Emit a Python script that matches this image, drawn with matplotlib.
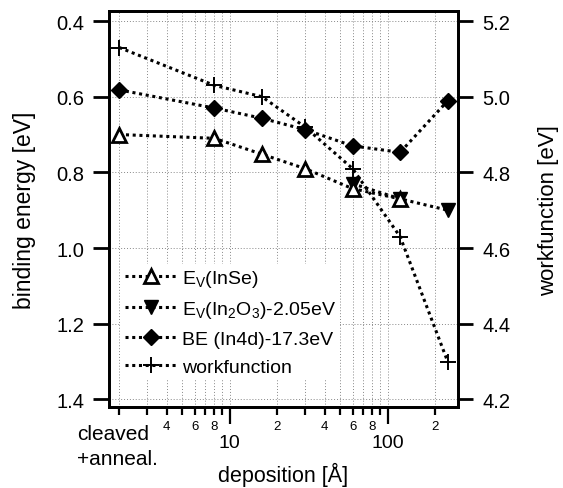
import matplotlib
matplotlib.use("Agg")
import matplotlib.pyplot as plt
from matplotlib.ticker import FixedLocator, FixedFormatter

plt.rcParams['font.family'] = ['Liberation Sans', 'DejaVu Sans']
plt.rcParams['mathtext.fontset'] = 'custom'
plt.rcParams['mathtext.rm'] = 'Liberation Sans'
plt.rcParams['mathtext.it'] = 'Liberation Sans:italic'

# ---- data ----
deposition = [2, 8, 16, 30, 60, 120, 240]          # 2 = "cleaved + anneal."
ev_inse_x = [2, 8, 16, 30, 60, 120]
ev_inse = [0.70, 0.71, 0.752, 0.79, 0.843, 0.87]
ev_in2o3_x = [60, 120, 240]
ev_in2o3 = [0.83, 0.87, 0.90]
be_in4d = [0.582, 0.630, 0.657, 0.687, 0.730, 0.747, 0.611]
workfunction = [5.13, 5.03, 5.00, 4.92, 4.81, 4.63, 4.30]

left_ticks = [0.4, 0.6, 0.8, 1.0, 1.2, 1.4]
right_ticks = [4.2, 4.4, 4.6, 4.8, 5.0, 5.2]
major_x = [10, 100]
minor_x = [2, 3, 4, 5, 6, 7, 8, 9, 20, 30, 40, 50, 60, 70, 80, 90, 200]
minor_x_labels = ['', '', '4', '', '6', '', '8', '', '2', '', '4', '', '6', '', '8', '', '2']

W, H = 563, 489
fig = plt.figure(figsize=(W / 100, H / 100), dpi=100)
L, R, T, B = 108.5, 458, 12.2, 408.3
ax = fig.add_axes([L / W, 1 - B / H, (R - L) / W, (B - T) / H])
ax2 = ax.twinx()

ax.set_xscale('log')
ax.set_xlim(1.71, 279)
ax.set_ylim(1.421, 0.374)
ax2.set_ylim(5.6 - 1.421, 5.6 - 0.374)

ls = (0, (1, 1.2))
lw = 2.2
l1, = ax.plot(ev_inse_x, ev_inse, color='black', ls=ls, lw=lw, marker='^',
              ms=10.5, mfc='white', mec='black', mew=2, label=r'E$_\mathrm{V}$(InSe)', zorder=4)
l2, = ax.plot(ev_in2o3_x, ev_in2o3, color='black', ls=ls, lw=lw, marker='v',
              ms=10.5, mfc='black', mec='black', label=r'E$_\mathrm{V}$(In$_2$O$_3$)-2.05eV', zorder=3)
l3, = ax.plot(deposition, be_in4d, color='black', ls=ls, lw=lw, marker='D',
              ms=8.5, mfc='black', mec='black', label='BE (In4d)-17.3eV', zorder=3)
l4, = ax2.plot(deposition, workfunction, color='black', ls=ls, lw=lw, marker='+',
               ms=12, mew=1.4, label='workfunction', zorder=3)

# ticks and grid
ax.xaxis.set_major_locator(FixedLocator(major_x))
ax.xaxis.set_minor_locator(FixedLocator(minor_x))
ax.xaxis.set_major_formatter(FixedFormatter([str(v) for v in major_x]))
ax.xaxis.set_minor_formatter(FixedFormatter(minor_x_labels))
ax.grid(True, which='both', axis='x', color='#888888', ls=(0, (1, 2)), lw=0.7)
ax.grid(True, which='major', axis='y', color='#888888', ls=(0, (1, 2)), lw=0.7)
ax.set_axisbelow(True)

ax.set_yticks(left_ticks)
ax.set_yticklabels(['%.1f' % v for v in left_ticks])
ax2.set_yticks(right_ticks)
ax2.set_yticklabels(['%.1f' % v for v in right_ticks])

for a in (ax, ax2):
    for s in a.spines.values():
        s.set_linewidth(2.0)

ax.tick_params(axis='y', which='major', direction='out', length=11.5, width=2.0,
               labelsize=14.5, pad=6)
ax2.tick_params(axis='y', which='major', direction='out', length=10.5, width=2.0,
                labelsize=14.5, pad=7)
ax.tick_params(axis='x', which='major', direction='out', length=12, width=1.6,
               labelsize=14, pad=7)
ax.tick_params(axis='x', which='minor', direction='out', length=6, width=1.6,
               labelsize=9.5, pad=3)

ax.set_ylabel('binding energy [eV]', fontsize=16.5)
ax.yaxis.set_label_coords(-0.208, 0.5)
ax2.set_ylabel('workfunction [eV]', fontsize=16)
ax2.yaxis.set_label_coords(1.228, 0.5)
ax.set_xlabel('deposition [Å]', fontsize=15.5)
ax.xaxis.set_label_coords(0.5, -0.138)

fig.text(76.7 / W, 1 - 440 / H, 'cleaved', fontsize=15, ha='left', va='baseline')
fig.text(76.7 / W, 1 - 465 / H, '+anneal.', fontsize=15, ha='left', va='baseline')

leg = ax2.legend(handles=[l1, l2, l3, l4], loc='lower left',
                 bbox_to_anchor=(0.035, 0.07), frameon=True, fontsize=14,
                 handlelength=2.7, handletextpad=0.25, labelspacing=0.52,
                 borderpad=0.2, borderaxespad=0)
leg.get_frame().set_edgecolor('none')
leg.get_frame().set_facecolor('white')
leg.get_frame().set_alpha(1)

fig.savefig('out.png', dpi=100)
